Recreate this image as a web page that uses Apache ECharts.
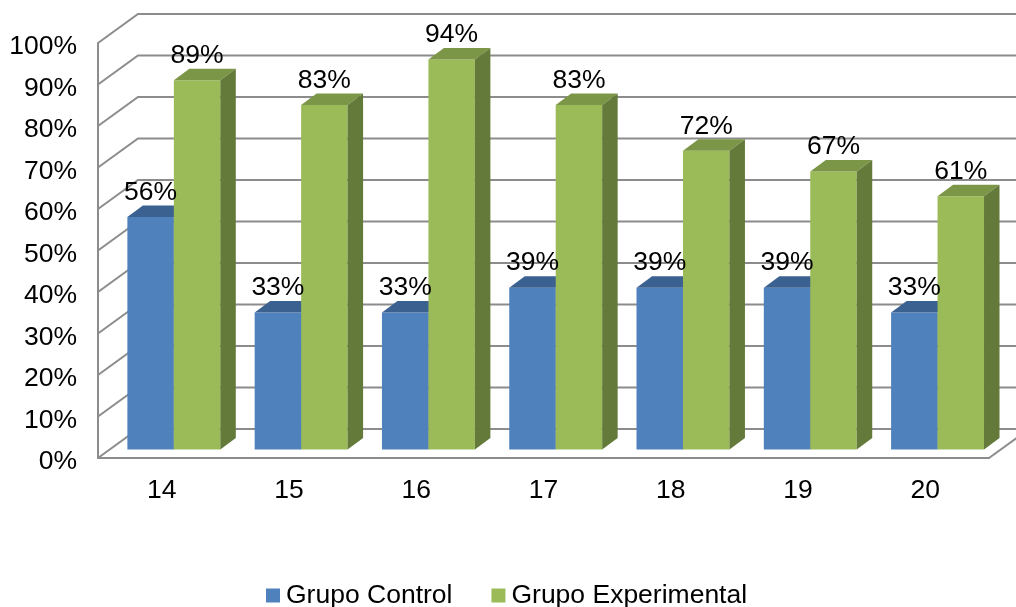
<!DOCTYPE html>
<html>
<head>
<meta charset="utf-8">
<style>html,body{margin:0;padding:0;background:#fff}#c{width:1016px;height:607px}</style>
<script src="https://cdn.jsdelivr.net/npm/echarts@6/dist/echarts.min.js"></script>
</head>
<body>
<div id="c"></div>
<script>
var categories = ['14','15','16','17','18','19','20'];
var grupoControl = [56,33,33,39,39,39,33];
var grupoExperimental = [89,83,94,83,72,67,61];
var yTicks = [0,10,20,30,40,50,60,70,80,90,100];
var FONT = '"Liberation Sans", Arial, sans-serif';
var FS = 26.5;
var GRID = '#8C8C8C';

var chart = echarts.init(document.getElementById('c'), null, {renderer:'canvas'});

function wallItem(params, api){
  var cs = params.coordSys, v = api.value(0), y = api.coord([0,v])[1];
  var l = cs.x, r = cs.x + cs.width, dx = 40, dy = -29;
  var style = {stroke:GRID, lineWidth:2, fill:null};
  var children = [{type:'polyline', shape:{points:[[l,y],[l+dx,y+dy],[r+dx,y+dy]]}, style:style}];
  if (v === 0) children.push({type:'line', shape:{x1:r,y1:y,x2:r+dx,y2:y+dy}, style:style});
  return {type:'group', children:children};
}
function barSeries(name, values, side, front, top, sideCol){
  return {
    name:name, type:'custom', coordinateSystem:'cartesian2d', z:3,
    itemStyle:{color:front},
    data:values.map(function(v,i){return [i,v];}),
    encode:{x:0,y:1},
    renderItem:function(params, api){
      var w = api.size([1,0])[0]*0.365;
      var off = 12.2, bdy = 8.5;
      var c = api.coord([api.value(0), api.value(1)]);
      var b = api.coord([api.value(0), 0]);
      var x0 = c[0] + off + (side<0 ? -w : 0), x1 = x0 + w;
      var yb = b[1] - bdy;
      var yt = yb - (b[1]-c[1]);
      var dx = 15.5, dy = -11.5;
      return {type:'group', children:[
        {type:'rect', shape:{x:x0,y:yt,width:w,height:yb-yt}, style:{fill:front}},
        {type:'polygon', shape:{points:[[x0,yt],[x1,yt],[x1+dx,yt+dy],[x0+dx,yt+dy]]}, style:{fill:top}},
        {type:'polygon', shape:{points:[[x1,yt],[x1+dx,yt+dy],[x1+dx,yb+dy],[x1,yb]]}, style:{fill:sideCol}},
        {type:'text', z2:100, style:{text:api.value(1)+'%', x:(x0+x1)/2, y:yt-24.5, align:'center', verticalAlign:'middle', fill:'#000', font:FS+'px '+FONT}}
      ]};
    }
  };
}

chart.setOption({
  animation:false,
  backgroundColor:'#fff',
  grid:{left:98, top:43, width:891, height:415, containLabel:false},
  legend:{
    left:261, top:577, icon:'rect', itemWidth:14, itemHeight:14, itemGap:39,
    data:['Grupo Control','Grupo Experimental'],
    textStyle:{fontFamily:FONT, fontSize:FS, color:'#000', padding:[0,0,0,1]}
  },
  xAxis:{
    type:'category', data:categories,
    axisLine:{show:true, lineStyle:{color:GRID,width:2}},
    axisTick:{show:false},
    axisLabel:{fontFamily:FONT, fontSize:FS, color:'#000', margin:19}
  },
  yAxis:{
    type:'value', min:0, max:100, interval:10,
    axisLine:{show:true, lineStyle:{color:GRID,width:2}},
    axisTick:{show:false},
    splitLine:{show:false},
    axisLabel:{fontFamily:FONT, fontSize:FS, color:'#000', margin:21, verticalAlign:'top', lineHeight:26, padding:[-9,0,0,0], formatter:'{value}%'}
  },
  series:[
    {type:'custom', coordinateSystem:'cartesian2d', z:1, silent:true, data:yTicks.map(function(v){return [v];}), encode:{y:0}, renderItem:wallItem},
    barSeries('Grupo Control', grupoControl, -1, '#4F81BD', '#3B6191', '#3A5F8C'),
    barSeries('Grupo Experimental', grupoExperimental, 1, '#9BBB59', '#7C9647', '#647A3A')
  ]
});
</script>
</body>
</html>
